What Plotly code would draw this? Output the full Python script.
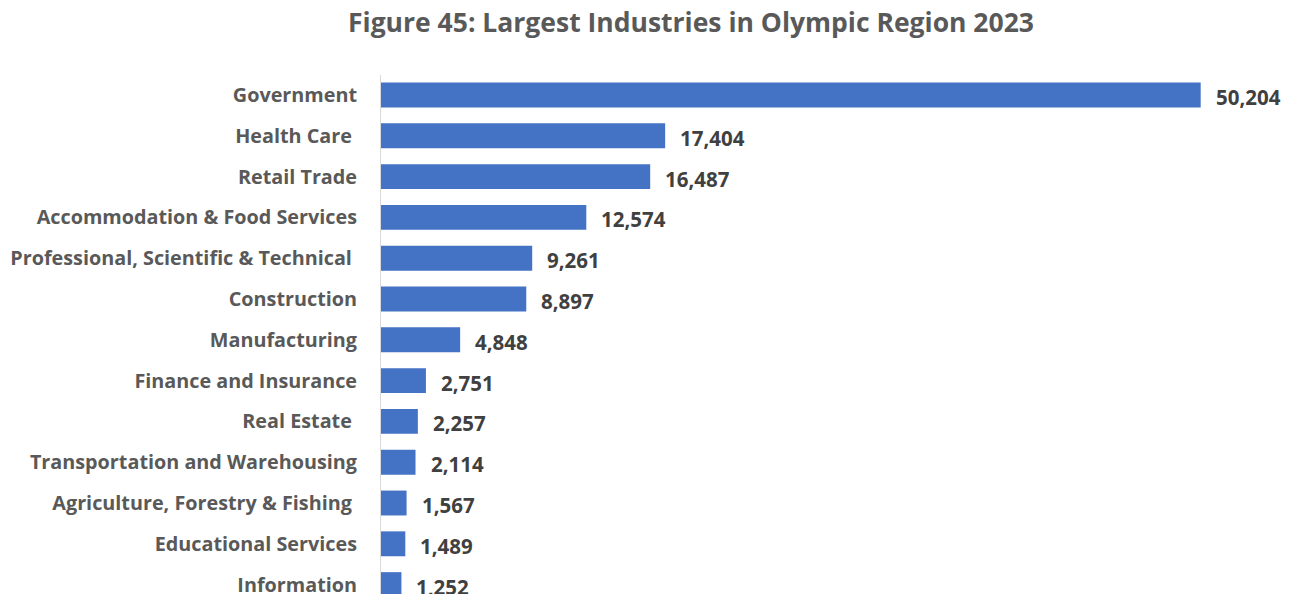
import plotly.graph_objects as go

categories = [
    "Government", "Health Care ", "Retail Trade", "Accommodation & Food Services",
    "Professional, Scientific & Technical ", "Construction", "Manufacturing",
    "Finance and Insurance", "Real Estate ", "Transportation and Warehousing",
    "Agriculture, Forestry & Fishing ", "Educational Services", "Information",
]
values = [50204, 17404, 16487, 12574, 9261, 8897, 4848, 2751, 2257, 2114, 1567, 1489, 1252]
title_text = "Figure 45: Largest Industries in Olympic Region 2023"

display = [c.rstrip() + ("\u00a0" if c != c.rstrip() else "") for c in categories]
FONT = "Open Sans"
OFF = 8  # page body margin

fig = go.Figure()
fig.add_trace(go.Bar(
    x=values, y=list(range(len(values))), orientation="h",
    marker=dict(color="#4472C4", line=dict(width=0)),
    width=0.61, hoverinfo="skip",
))
for i, v in enumerate(values):
    fig.add_annotation(
        x=v, y=i, text=f"{v:,}", showarrow=False, xanchor="left", yanchor="middle",
        xshift=13, yshift=-2,
        font=dict(family=FONT, size=20.5, color="#404040", weight="bold"),
    )

W, H = 1292 - OFF, 594 - OFF
fig.update_layout(
    width=W, height=H,
    margin=dict(l=381 - OFF, r=13, t=75 - OFF, b=0, autoexpand=False),
    paper_bgcolor="white", plot_bgcolor="white",
    title=dict(
        text=title_text, x=(691 - OFF) / W, xanchor="center", xref="container",
        y=1 - (23 - OFF) / H, yanchor="middle",
        font=dict(family=FONT, size=26.5, color="#595959", weight="bold"),
    ),
    xaxis=dict(range=[0, 55000], visible=False, fixedrange=True, automargin=False),
    yaxis=dict(
        range=[12.23, -0.49], tickmode="array", tickvals=list(range(len(values))),
        ticktext=display, showgrid=False, zeroline=False, automargin=False,
        showline=True, linecolor="#d9d9d9", linewidth=1,
        ticks="", ticklabelstandoff=19, ticklabeloverflow="allow",
        tickfont=dict(family=FONT, size=19.8, color="#595959", weight="bold"),
    ),
    showlegend=False,
)
fig.write_html("out.html")
